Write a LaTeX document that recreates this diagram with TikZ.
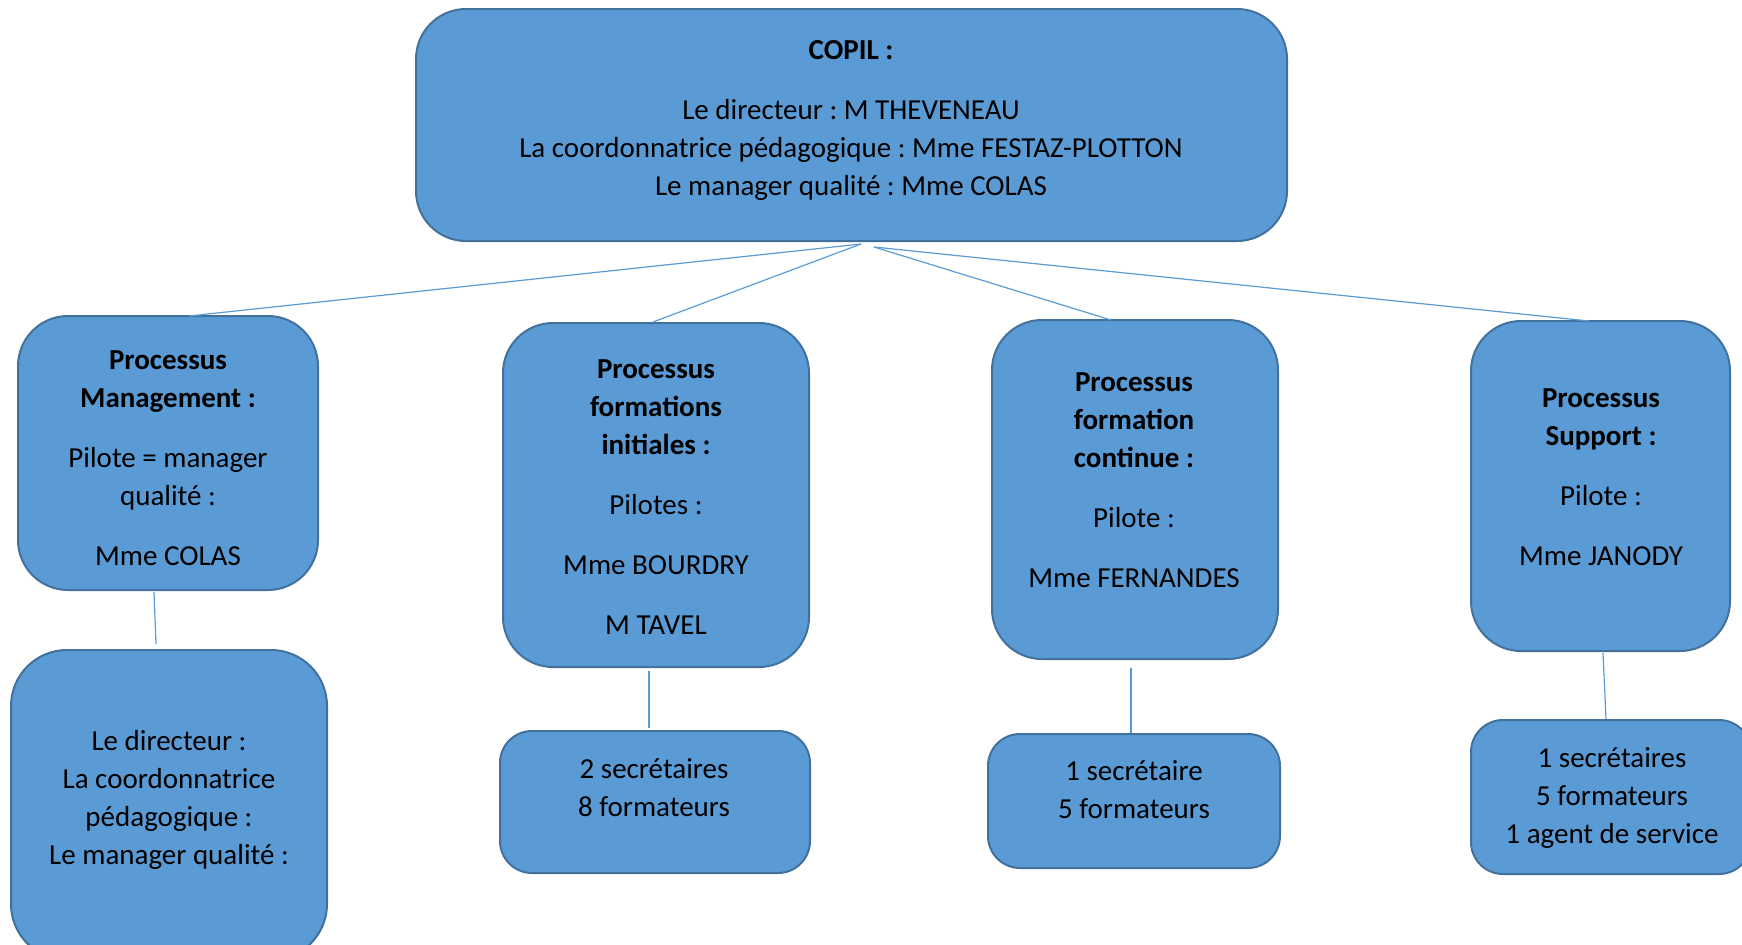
\documentclass[tikz,border=0pt]{standalone}
\usepackage{fontspec}
\setmainfont{Carlito}
\frenchspacing
\definecolor{boxfill}{HTML}{5B9BD5}
\definecolor{boxline}{HTML}{41719C}
\definecolor{linkc}{HTML}{5B9BD5}
\begin{document}
\begin{tikzpicture}[x=0.5pt,y=-0.5pt,
  box/.style={draw=boxline,fill=boxfill,line width=1pt,rounded corners=25pt,inner sep=0pt},
  smallbox/.style={box,rounded corners=16pt},
  txt/.style={align=center,inner sep=0pt,font=\fontsize{14.5pt}{19pt}\selectfont},
  link/.style={draw=linkc,line width=0.6pt}]
\useasboundingbox (0,0) rectangle (1742,944);
% level 1
\node[box,minimum width=435.5pt,minimum height=116pt] (copil) at (851.5,125) {};
\node[txt] (copilt) at (851,120) {\textbf{COPIL :}\\[11pt]Le directeur : M THEVENEAU\\La coordonnatrice pédagogique : Mme FESTAZ-PLOTTON\\Le manager qualité : Mme COLAS};
% level 2
\node[box,minimum width=150pt,minimum height=137pt] (m) at (168,453) {};
\node[txt] (mt) at (168,458) {\textbf{Processus}\\\textbf{Management :}\\[11pt]Pilote = manager\\qualité :\\[11pt]Mme COLAS};
\node[box,minimum width=153pt,minimum height=172pt] (fi) at (656,495) {};
\node[txt] (fit) at (656,497) {\textbf{Processus}\\\textbf{formations}\\\textbf{initiales :}\\[11pt]Pilotes :\\[11pt]Mme BOURDRY\\[11pt]M TAVEL};
\node[box,minimum width=143pt,minimum height=169.5pt] (fc) at (1135,489.5) {};
\node[txt] (fct) at (1134,480) {\textbf{Processus}\\\textbf{formation}\\\textbf{continue :}\\[11pt]Pilote :\\[11pt]Mme FERNANDES};
\node[box,minimum width=129.5pt,minimum height=165pt] (sp) at (1600.5,486) {};
\node[txt] (spt) at (1601,477) {\textbf{Processus}\\\textbf{Support :}\\[11pt]Pilote :\\[11pt]Mme JANODY};
% level 3
\node[box,rounded corners=28pt,minimum width=158pt,minimum height=155pt] (mb) at (169,805) {};
\node[txt] (mbt) at (169,800) {Le directeur :\\La coordonnatrice\\pédagogique :\\Le manager qualité :};
\node[smallbox,minimum width=155pt,minimum height=71pt] (fib) at (655,802) {};
\node[txt] (fibt) at (654,788) {2 secrétaires\\8 formateurs};
\node[smallbox,minimum width=146pt,minimum height=67pt] (fcb) at (1134,801) {};
\node[txt] (fcbt) at (1134,790) {1 secrétaire\\5 formateurs};
\node[smallbox,minimum width=140pt,minimum height=77pt] (spb) at (1611,797) {};
\node[txt] (spbt) at (1612,798) {1 secrétaires\\5 formateurs\\1 agent de service};
% connector points
\coordinate (cl) at (861,244);
\coordinate (cr) at (874,247);
\coordinate (mtop) at (189,316);
\coordinate (fitop) at (653,322);
\coordinate (fctop) at (1111,320);
\coordinate (sptop) at (1589,321);
\coordinate (m1) at (154,592);
\coordinate (m2) at (156,644);
\coordinate (f1) at (649,671);
\coordinate (f2) at (649,728);
\coordinate (c1) at (1131,668);
\coordinate (c2) at (1131,733);
\coordinate (s1) at (1603,653);
\coordinate (s2) at (1606,719);
\draw[link] (cl) -- (mtop);
\draw[link] (cl) -- (fitop);
\draw[link] (cr) -- (fctop);
\draw[link] (cr) -- (sptop);
\draw[link] (m1) -- (m2);
\draw[link] (f1) -- (f2);
\draw[link] (c1) -- (c2);
\draw[link] (s1) -- (s2);
\end{tikzpicture}
\end{document}
